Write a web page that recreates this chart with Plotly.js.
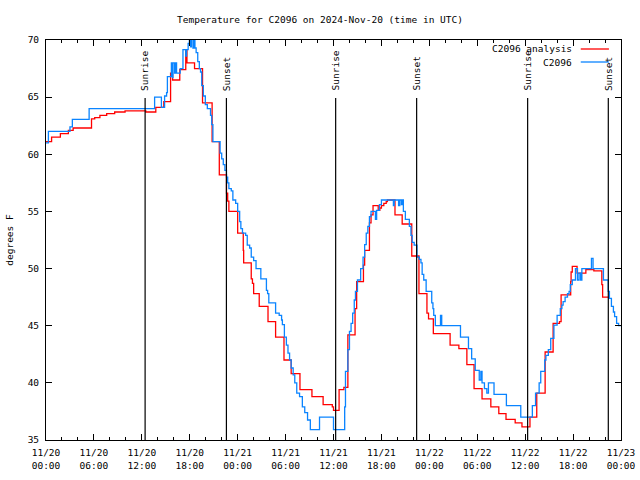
<!DOCTYPE html>
<html>
<head>
<meta charset="utf-8">
<script src="https://cdn.plot.ly/plotly-3.0.1.min.js"></script>
<style>html,body{margin:0;padding:0;background:#fff;}#chart{width:640px;height:480px;}</style>
</head>
<body>
<div id="chart"></div>
<script>
// Hours after 2024-11-20 00:00 UTC, temperature in degrees F (step data)
const analysisSeries = [
 [0,61.1],[0.7,61.5],[1.8,61.8],[2.8,62.1],[3.4,62.3],[5.7,63.1],[6.1,63.2],[6.75,63.4],[7.6,63.55],[8.6,63.7],
 [9.9,63.8],[12.5,63.7],[13.75,64.1],[14.75,64.6],[15.6,67.1],[15.85,66.5],[16.75,67.4],[17.5,69.15],[17.65,68.0],[18.6,67.5],
 [19.6,64.5],[20.8,61.1],[21.7,58.2],[22.6,56.6],[22.75,55.9],[22.9,55.0],[24.0,53.1],[24.7,51.6],[24.75,50.5],[25.7,49.1],
 [25.85,48.7],[26.0,47.8],[26.7,46.7],[27.8,45.35],[28.75,44.0],[29.8,42.0],[30.7,40.8],[31.8,39.4],[33.3,38.8],[34.7,38.1],
 [35.85,37.9],[36.0,37.6],[36.7,39.4],[37.3,39.6],[37.8,44.2],[38.7,46.5],[38.9,48.85],[39.75,50.3],[39.9,51.6],[40.5,54.0],
 [40.7,54.7],[40.95,55.5],[41.6,55.1],[41.8,55.3],[42.0,55.5],[42.3,55.7],[42.6,55.85],[42.75,56.0],[43.7,54.7],[44.6,53.9],
 [45.8,51.1],[46.7,47.8],[47.7,46.1],[47.9,45.6],[48.5,44.3],[50.6,43.3],[51.7,43.0],[52.7,41.6],[53.6,39.5],[54.6,38.6],
 [55.7,37.9],[56.7,37.3],[57.6,36.8],[58.75,36.5],[59.6,36.15],[60.6,37.0],[61.45,39.1],[62.5,42.7],[63.5,45.2],[64.3,45.35],
 [64.5,47.7],[65.7,48.85],[65.75,49.7],[65.9,50.2],[66.5,49.6],[67.6,49.9],[68.6,49.8],[69.6,48.6],[69.7,47.5],[70.4,47.5]
];
const stationSeries = [
 [0,61.0],[0.3,62.0],[3.0,62.4],[3.3,63.06],[5.4,64.0],[13.6,65.0],[14.45,64.1],[14.85,65.1],[15.1,65.4],[15.2,66.8],
 [15.7,68.0],[15.85,66.7],[15.9,68.0],[16.1,67.1],[16.25,68.0],[16.35,67.1],[16.8,67.5],[17.15,69.15],[17.5,68.6],[17.6,69.15],
 [17.8,69.7],[17.95,70.2],[18.1,69.4],[18.2,70.2],[18.4,69.3],[18.5,70.2],[18.65,69.3],[18.8,68.9],[19.0,68.1],[19.2,67.5],
 [19.35,67.2],[19.5,66.0],[19.7,65.1],[19.95,64.35],[20.2,64.0],[20.6,63.4],[20.75,62.6],[20.9,61.1],[21.8,60.1],[22.0,59.6],
 [22.2,59.1],[22.4,58.6],[22.6,58.0],[22.75,57.5],[22.9,57.0],[23.2,56.8],[23.4,56.0],[23.75,55.7],[24.0,55.0],[24.25,54.1],
 [24.4,53.5],[24.6,53.1],[25.0,52.9],[25.2,52.06],[25.5,51.8],[25.7,51.0],[26.0,50.7],[26.3,50.0],[26.9,49.1],[27.6,48.1],
 [27.75,47.8],[27.9,47.0],[28.75,46.1],[29.2,45.9],[29.5,45.5],[29.6,45.1],[29.85,44.0],[30.1,43.3],[30.3,42.6],[30.5,42.0],
 [30.7,41.3],[30.95,40.7],[31.15,40.0],[31.4,39.1],[31.75,38.8],[32.1,37.9],[32.4,37.4],[32.75,36.75],[33.1,35.9],[34.25,37.0],
 [36.0,35.9],[37.4,37.9],[37.5,41.0],[37.8,42.9],[38.0,44.5],[38.2,45.2],[38.4,46.1],[38.6,47.25],[38.75,48.0],[39.0,49.0],
 [39.4,50.0],[39.7,51.0],[39.9,52.1],[40.1,53.1],[40.3,53.7],[40.5,54.55],[40.7,55.0],[41.25,54.3],[41.4,55.1],[41.75,55.6],
 [42.0,56.0],[43.5,55.5],[43.6,56.0],[44.15,55.5],[44.3,56.0],[44.5,55.6],[44.6,56.0],[44.75,55.0],[45.0,54.3],[45.5,53.7],
 [45.7,52.9],[45.85,52.3],[46.1,52.06],[46.45,51.0],[46.75,50.8],[46.95,50.5],[47.1,49.5],[47.3,49.0],[47.6,48.0],[48.3,47.0],
 [48.45,46.5],[48.55,45.9],[48.75,45.0],[49.4,45.9],[49.55,45.0],[51.9,44.0],[52.9,43.0],[53.3,42.1],[53.75,41.1],[54.25,40.25],
 [54.45,41.0],[54.6,40.0],[54.9,39.5],[55.2,39.1],[55.4,40.0],[56.1,39.0],[57.65,38.0],[59.45,37.0],[60.9,38.0],[61.3,39.1],
 [61.75,40.0],[61.95,41.0],[62.45,42.0],[62.6,42.4],[62.9,42.9],[63.2,43.9],[63.6,45.06],[64.0,45.9],[64.4,46.5],[64.6,46.8],
 [64.75,47.1],[65.0,47.5],[65.3,47.8],[65.5,48.0],[65.65,48.6],[65.9,49.0],[66.3,50.0],[66.55,49.0],[66.75,49.6],[66.95,49.0],
 [67.1,50.0],[68.3,50.9],[68.5,50.0],[69.8,49.0],[70.4,48.0],[70.55,47.4],[70.8,46.7],[71.05,46.2],[71.2,45.8],[71.45,45.2],
 [71.7,45.0],[72,45.0]
];
const seriesNames = ['C2096 analysis', 'C2096'];
const seriesColors = ['#ff0000', '#0a84ff'];

// Sun events (hours after 2024-11-20 00:00 UTC)
const eventHours = [12.41, 22.59, 36.27, 46.41, 60.31, 70.41];
const eventLabels = ['Sunrise', 'Sunset', 'Sunrise', 'Sunset', 'Sunrise', 'Sunset'];

// X tick positions (hours) and labels
const xTickHours = [0, 6, 12, 18, 24, 30, 36, 42, 48, 54, 60, 66, 72];
const xTickLabels = ['11/20<br>00:00','11/20<br>06:00','11/20<br>12:00','11/20<br>18:00',
  '11/21<br>00:00','11/21<br>06:00','11/21<br>12:00','11/21<br>18:00',
  '11/22<br>00:00','11/22<br>06:00','11/22<br>12:00','11/22<br>18:00','11/23<br>00:00'];

const FONT = 'DejaVu Sans Mono';
const FS = 9.5;

const traces = [analysisSeries, stationSeries].map((s, i) => ({
  type: 'scatter', mode: 'lines', name: seriesNames[i],
  x: s.map(p => p[0]), y: s.map(p => p[1]),
  line: {color: seriesColors[i], width: 1.3, shape: 'hv'},
  hoverinfo: 'skip'
}));

const shapes = eventHours.map(h => ({
  type: 'line', xref: 'x', yref: 'paper', x0: h, x1: h, y0: 0, y1: 0.855,
  line: {color: 'black', width: 1.2}
}));
const annotations = eventHours.map((h, i) => ({
  xref: 'x', yref: 'paper', x: h, y: 0.868, yanchor: 'bottom', xanchor: 'center',
  text: eventLabels[i], textangle: -90, showarrow: false,
  font: {family: FONT, size: FS, color: 'black'}
}));
// legend drawn gnuplot-style: text right-aligned, line sample on the right
const legendY = [0.9775, 0.945];
seriesNames.forEach((n, i) => {
  annotations.push({xref: 'paper', yref: 'paper', x: 0.919, y: legendY[i], xanchor: 'right', yanchor: 'middle',
    text: n, showarrow: false, font: {family: FONT, size: FS, color: 'black'}});
  shapes.push({type: 'line', xref: 'paper', yref: 'paper', x0: 0.930, x1: 0.979, y0: legendY[i], y1: legendY[i],
    line: {color: seriesColors[i], width: 1.3}});
});

const axisCommon = {
  showline: true, linecolor: 'black', linewidth: 1, mirror: 'ticks',
  ticks: 'inside', ticklen: 6, tickcolor: 'black', tickwidth: 1,
  showgrid: false, zeroline: false, automargin: false,
  tickfont: {family: FONT, size: FS, color: 'black'}
};

const layout = {
  width: 640, height: 480,
  margin: {l: 46, r: 19, t: 40, b: 40},
  paper_bgcolor: 'white', plot_bgcolor: 'white',
  font: {family: FONT, size: FS, color: 'black'},
  showlegend: false,
  title: {text: 'Temperature for C2096 on 2024-Nov-20 (time in UTC)', x: 0.5, xanchor: 'center',
          y: 1 - 20/480, yanchor: 'middle', font: {family: FONT, size: FS, color: 'black'}},
  xaxis: Object.assign({}, axisCommon, {
    range: [0, 72], tickmode: 'array', tickvals: xTickHours, ticktext: xTickLabels,
    ticklabelstandoff: 4,
    minor: {dtick: 2, tick0: 0, ticks: 'inside', ticklen: 3, tickcolor: 'black', showgrid: false}
  }),
  yaxis: Object.assign({}, axisCommon, {
    range: [35, 70], tick0: 35, dtick: 5, ticklabelstandoff: 4,
    title: {text: 'degrees F', standoff: 12, font: {family: FONT, size: FS, color: 'black'}}
  }),
  shapes: shapes,
  annotations: annotations
};

Plotly.newPlot('chart', traces, layout, {staticPlot: true, displayModeBar: false});
</script>
</body>
</html>
